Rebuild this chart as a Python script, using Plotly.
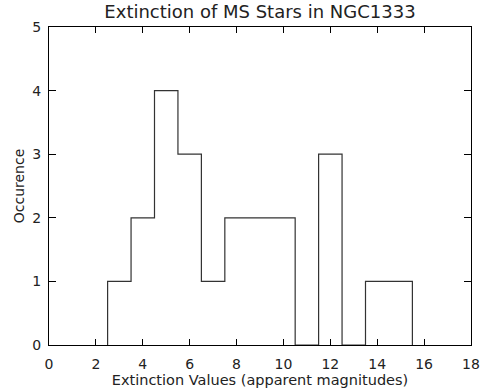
import plotly.graph_objects as go

bin_left = [2.5, 3.5, 4.5, 5.5, 6.5, 7.5, 8.5, 9.5, 10.5, 11.5, 12.5, 13.5, 14.5]
counts = [1, 2, 4, 3, 1, 2, 2, 2, 0, 3, 0, 1, 1]
bin_width = 1.0
x_ticks = list(range(0, 19, 2))
y_ticks = [0, 1, 2, 3, 4, 5]

xs = [bin_left[0]] + bin_left + [bin_left[-1] + bin_width]
ys = [0] + counts + [0]

fig = go.Figure()
fig.add_trace(go.Scatter(x=xs, y=ys, mode="lines", line=dict(shape="hv", color="#333333", width=1.2),
                         showlegend=False, hoverinfo="skip"))

font = "DejaVu Sans"
tc = "#222"
fig.update_layout(
    width=481, height=391,
    margin=dict(l=49, r=10, t=27, b=46),
    paper_bgcolor="white", plot_bgcolor="white",
    title=dict(text="Extinction of MS Stars in NGC1333", x=(49 + 471) / 2 / 481, xanchor="center",
               y=1 - 12 / 391, yanchor="middle", font=dict(family=font, size=18, color=tc)),
    xaxis=dict(range=[0, 18], tickvals=x_ticks, ticks="inside", ticklen=6, tickcolor="black",
               showline=True, linecolor="black", linewidth=1, mirror="ticks", showgrid=False,
               zeroline=False, automargin=False, ticklabelstandoff=6,
               tickfont=dict(family=font, size=14, color=tc),
               title=dict(text="Extinction Values (apparent magnitudes)", standoff=4,
                          font=dict(family=font, size=14.5, color=tc))),
    yaxis=dict(range=[0, 5], tickvals=y_ticks, ticks="inside", ticklen=7, tickcolor="black",
               showline=True, linecolor="black", linewidth=1, mirror="ticks", showgrid=False,
               zeroline=False, automargin=False, ticklabelstandoff=4,
               tickfont=dict(family=font, size=14, color=tc),
               title=dict(text="Occurence", standoff=4,
                          font=dict(family=font, size=14, color=tc))),
)
fig.write_html("out.html")
